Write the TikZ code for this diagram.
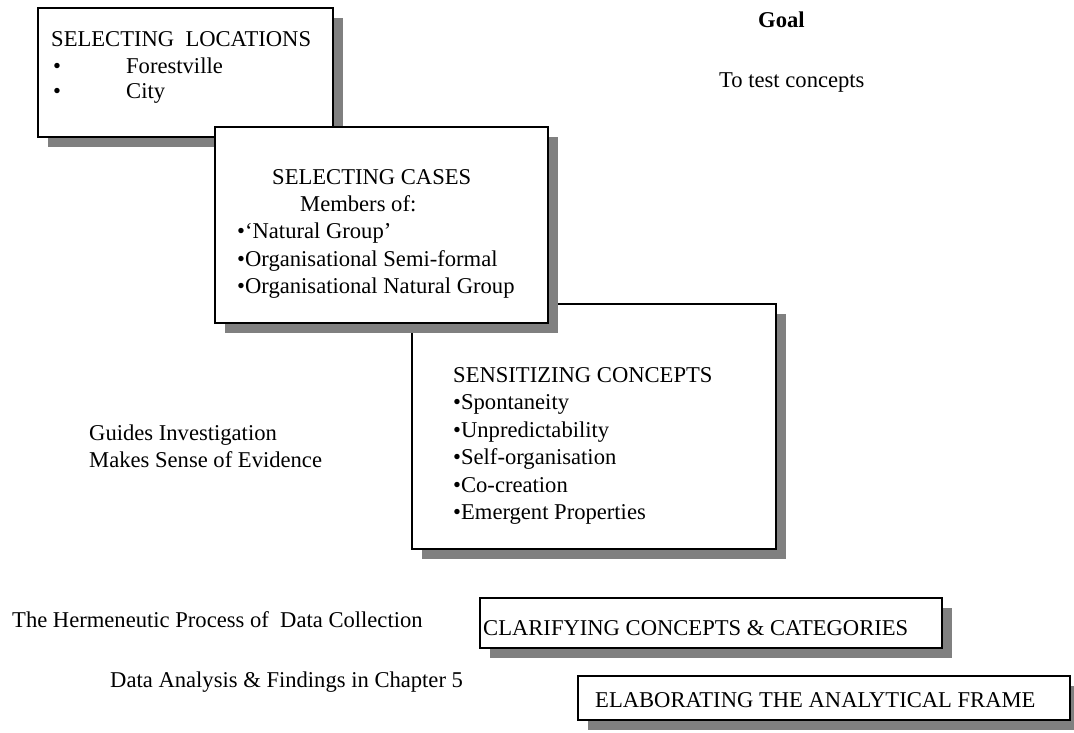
\documentclass[tikz,border=0pt]{standalone}
\usepackage{fontspec}
\setmainfont{Liberation Serif}
\usetikzlibrary{shadows}
\definecolor{shadowgray}{RGB}{128,128,128}
\begin{document}
\begin{tikzpicture}[x=1pt,y=-1pt,
  box/.style={draw=black,line width=1.3pt,fill=white,inner sep=0pt,
    drop shadow={shadow xshift=10pt,shadow yshift=-10pt,fill=shadowgray,opacity=1}},
  txt/.style={anchor=base west,inner sep=0pt,font=\fontsize{22.6}{27}\selectfont}
]
\useasboundingbox[fill=white] (0,0) rectangle (1074,732);

% Box 1: selecting locations
\node[box,minimum width=295pt,minimum height=129pt] (b1) at (185.5,72.5) {};
% Box 3: sensitizing concepts (drawn before box 2, which overlaps it)
\node[box,minimum width=364pt,minimum height=245pt] (b3) at (594,426.5) {};
% Box 2: selecting cases
\node[box,minimum width=333pt,minimum height=196pt] (b2) at (381.5,225) {};
% Box 4 and 5
\node[box,minimum width=462pt,minimum height=50pt] (b4) at (711,623) {};
\node[box,minimum width=492pt,minimum height=44pt] (b5) at (824,698) {};

% Box 1 text
\node[txt] (t11) at (51,46) {SELECTING~~LOCATIONS};
\node[txt] (t12) at (53,73) {\makebox[73pt][l]{•}Forestville};
\node[txt] (t13) at (53,98) {\makebox[73pt][l]{•}City};

% Box 2 text
\node[txt] (t21) at (272,184) {SELECTING CASES};
\node[txt] (t22) at (300,211) {Members of:};
\node[txt] (t23) at (237,238) {•‘Natural Group’};
\node[txt] (t24) at (237,266) {•Organisational Semi-formal};
\node[txt] (t25) at (237,293) {•Organisational Natural Group};

% Box 3 text
\node[txt] (t31) at (453,382) {SENSITIZING CONCEPTS};
\node[txt] (t32) at (453,409.5) {•Spontaneity};
\node[txt] (t33) at (453,437) {•Unpredictability};
\node[txt] (t34) at (453,464.5) {•Self-organisation};
\node[txt] (t35) at (453,492) {•Co-creation};
\node[txt] (t36) at (453,519.5) {•Emergent Properties};

% Box 4, 5 text
\node[txt] (t41) at (483,635) {CLARIFYING CONCEPTS \& CATEGORIES};
\node[txt] (t51) at (595,707) {ELABORATING THE ANALYTICAL FRAME};

% Free texts
\node[txt,font=\fontsize{22.6}{27}\selectfont\bfseries] (goal) at (758,27) {Goal};
\node[txt] (test) at (719,87) {To test concepts};
\node[txt] (g1) at (89,440) {Guides Investigation};
\node[txt] (g2) at (89,467) {Makes Sense of Evidence};
\node[txt] (herm) at (12,627) {The Hermeneutic Process of~~Data Collection};
\node[txt] (data) at (110,687) {Data Analysis \& Findings in Chapter 5};
\end{tikzpicture}
\end{document}
